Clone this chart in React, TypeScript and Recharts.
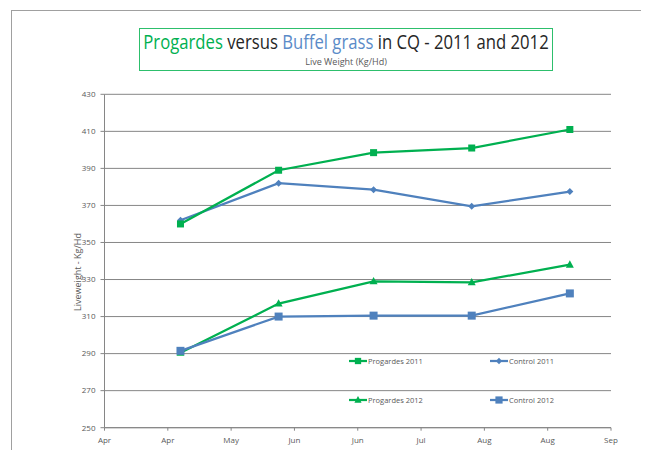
import React from 'react';
import { LineChart, Line, XAxis, YAxis, CartesianGrid, Legend, Label } from 'recharts';

// ---- data ----
const dayOffsets = [24, 55, 85, 116, 147];
const progardes2011 = [360, 389, 398.5, 401, 411];
const control2011 = [362, 382, 378.5, 369.5, 377.5];
const progardes2012 = [290.5, 317, 329, 328.5, 338];
const control2012 = [291.5, 310, 310.5, 310.5, 322.5];

const xTickDays = [0, 20, 40, 60, 80, 100, 120, 140, 160];
const xTickLabels = ['Apr', 'Apr', 'May', 'Jun', 'Jun', 'Jul', 'Aug', 'Aug', 'Sep'];
const yTicks = [250, 270, 290, 310, 330, 350, 370, 390, 410, 430];

const seriesNames = ['Progardes 2011', 'Control 2011', 'Progardes 2012', 'Control 2012'];

const GREEN = '#00B050';
const BLUE = '#4F81BD';
const GRID = '#868686';
const TEXT = '#595959';
const FONT = '"Open Sans", sans-serif';

const data = dayOffsets.map((d, i) => ({
  day: d,
  p2011: progardes2011[i],
  c2011: control2011[i],
  p2012: progardes2012[i],
  c2012: control2012[i],
}));

type Shape = 'square' | 'diamond' | 'triangle';
const series: { key: string; name: string; color: string; shape: Shape; size: number }[] = [
  { key: 'c2011', name: seriesNames[1], color: BLUE, shape: 'diamond', size: 7 },
  { key: 'p2011', name: seriesNames[0], color: GREEN, shape: 'square', size: 7 },
  { key: 'p2012', name: seriesNames[2], color: GREEN, shape: 'triangle', size: 8 },
  { key: 'c2012', name: seriesNames[3], color: BLUE, shape: 'square', size: 8 },
];

const legendLayout = [
  { key: 'p2011', col: 0, row: 0 },
  { key: 'c2011', col: 1, row: 0 },
  { key: 'p2012', col: 0, row: 1 },
  { key: 'c2012', col: 1, row: 1 },
];

function marker(shape: Shape, cx: number, cy: number, color: string, s: number, key?: string) {
  if (cx == null || cy == null) return <g key={key} />;
  if (shape === 'square') {
    return <rect key={key} x={cx - s / 2} y={cy - s / 2} width={s} height={s} fill={color} />;
  }
  if (shape === 'diamond') {
    const h = s / 2;
    return (
      <polygon key={key} points={`${cx},${cy - h} ${cx + h},${cy} ${cx},${cy + h} ${cx - h},${cy}`} fill={color} />
    );
  }
  const h = s / 2;
  return (
    <polygon key={key} points={`${cx},${cy - h * 1.1} ${cx + h},${cy + h * 0.75} ${cx - h},${cy + h * 0.75}`} fill={color} />
  );
}

const W = 641;
const H = 442;

function LegendContent() {
  const colX = [341, 482];
  const rowY = [352.7, 392];
  return (
    <div style={{ position: 'relative', width: W, height: H, pointerEvents: 'none' }}>
      {legendLayout.map((l) => {
        const s = series.find((x) => x.key === l.key)!;
        return (
          <div
            key={l.key}
            style={{
              position: 'absolute',
              left: colX[l.col],
              top: rowY[l.row] - 6,
              height: 12,
              display: 'flex',
              alignItems: 'center',
              whiteSpace: 'nowrap',
            }}
          >
            <svg width={18} height={12} style={{ display: 'block' }}>
              <line x1={0} y1={6} x2={18} y2={6} stroke={s.color} strokeWidth={2.25} />
              {marker(s.shape, 9, 6, s.color, s.size * 0.9)}
            </svg>
            <span style={{ fontFamily: FONT, fontSize: 7.5, color: TEXT, marginLeft: 1 }}>{s.name}</span>
          </div>
        );
      })}
    </div>
  );
}

export default function App() {
  return (
    <div style={{ position: 'relative', width: W, height: H, overflow: 'hidden', background: '#fff' }}>
      {/* outer frame */}
      <div
        style={{
          position: 'absolute',
          left: 3,
          top: 2,
          width: 634,
          height: 500,
          borderLeft: '1px solid #A0A0A0',
          borderTop: '1px solid #A0A0A0',
          borderRight: '1px solid #A0A0A0',
          boxSizing: 'border-box',
        }}
      />
      {/* title box */}
      <div
        style={{
          position: 'absolute',
          left: 131.3,
          top: 20.3,
          width: 413.4,
          height: 42.4,
          border: '1.5px solid #2DBF6C',
          boxSizing: 'border-box',
        }}
      />
      <div
        style={{
          position: 'absolute',
          left: 38,
          width: 600,
          top: 24.2,
          textAlign: 'center',
          fontFamily: FONT,
          fontSize: 20,
          lineHeight: '20px',
          color: '#262626',
          whiteSpace: 'nowrap',
          transform: 'scaleX(0.834)',
          transformOrigin: '300px 50%',
        }}
      >
        <span style={{ color: GREEN }}>Progardes</span> versus <span style={{ color: '#5B8BC8' }}>Buffel grass</span> in CQ - 2011 and 2012
      </div>
      <div
        style={{
          position: 'absolute',
          left: 38,
          width: 600,
          top: 49.3,
          textAlign: 'center',
          fontFamily: FONT,
          fontSize: 9,
          lineHeight: '9px',
          color: TEXT,
          whiteSpace: 'nowrap',
        }}
      >
        Live Weight (Kg/Hd)
      </div>
      <div style={{ position: 'absolute', left: 0, top: 0 }}>
        <LineChart width={W} height={H} data={data} margin={{ top: 86.3, right: 38, bottom: 0.3, left: 36.5 }}>
          <CartesianGrid horizontal vertical={false} stroke={GRID} strokeWidth={1} />
          <XAxis
            dataKey="day"
            type="number"
            domain={[0, 160]}
            ticks={xTickDays}
            tickFormatter={(v: number) => xTickLabels[xTickDays.indexOf(v)] ?? ''}
            height={22}
            stroke={GRID}
            tickSize={3}
            tickMargin={7}
            tick={{ fontFamily: FONT, fontSize: 8, fill: TEXT }}
            interval={0}
            allowDataOverflow
          />
          <YAxis
            type="number"
            domain={[250, 430]}
            ticks={yTicks}
            width={60}
            stroke={GRID}
            tickSize={4}
            tickMargin={5}
            tick={{ fontFamily: FONT, fontSize: 8, fill: TEXT }}
            interval={0}
            allowDataOverflow
          >
            <Label
              content={(p: any) => {
                const vb = p.viewBox || { x: 36.5, y: 86.3, width: 60, height: 333.4 };
                const cx = vb.x + 32.5;
                const cy = vb.y + vb.height / 2 + 11;
                return (
                  <text
                    x={cx}
                    y={cy}
                    transform={`rotate(-90 ${cx} ${cy})`}
                    textAnchor="middle"
                    dominantBaseline="central"
                    fontFamily={FONT}
                    fontSize={9}
                    fill={TEXT}
                  >
                    Liveweight - Kg/Hd
                  </text>
                );
              }}
            />
          </YAxis>
          <Legend
            layout="horizontal"
            verticalAlign="middle"
            align="center"
            wrapperStyle={{ left: 0, top: 0, width: W, height: H }}
            content={() => <LegendContent />}
          />
          {series.map((s) => (
            <Line
              key={s.key}
              type="linear"
              dataKey={s.key}
              name={s.name}
              stroke={s.color}
              strokeWidth={2.25}
              isAnimationActive={false}
              dot={(p: any) => marker(s.shape, p.cx, p.cy, s.color, s.size, `${s.key}-${p.index}`)}
              activeDot={false}
            />
          ))}
        </LineChart>
      </div>
    </div>
  );
}
